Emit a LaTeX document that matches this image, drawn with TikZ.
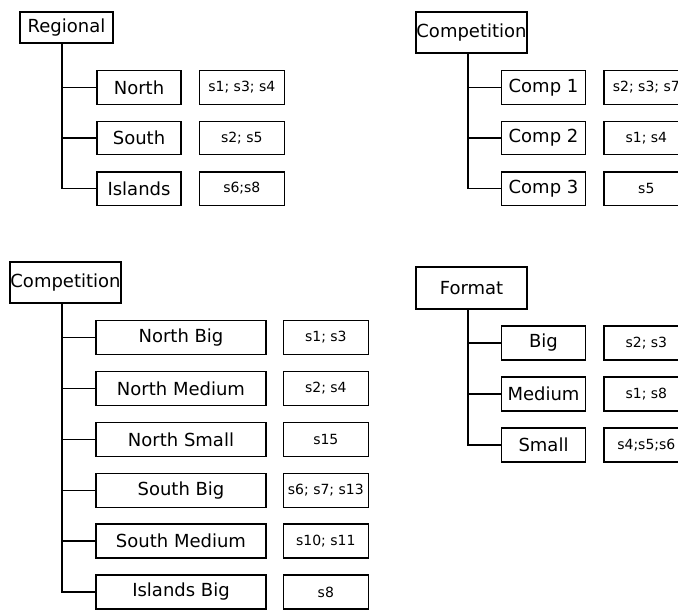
\documentclass[tikz,border=0pt]{standalone}
\usepackage{fontspec}
\setmainfont{DejaVu Sans}
\usetikzlibrary{positioning}

\begin{document}
\begin{tikzpicture}[x=0.75pt, y=-0.75pt,
  box/.style={draw=black, line width=1pt, inner sep=0pt, font=\fontsize{13.5}{16}\selectfont},
  head/.style={box, minimum width=83.25pt, minimum height=30.75pt},
  item/.style={box, minimum width=63pt, minimum height=25pt},
  wide/.style={box, minimum width=127.5pt, minimum height=25.5pt},
  val/.style={box, minimum width=63.75pt, minimum height=25pt, font=\fontsize{10.5}{12}\selectfont},
  link/.style={draw=black, line width=1pt}]
  \useasboundingbox (0,0) rectangle (678,610);
  \clip (0,0) rectangle (678,610);

  % regional
  \node[head, minimum width=69.75pt, minimum height=23.25pt] (reg) at (66.5,27.5) {Regional};
  \coordinate (regtrunk) at ([xshift=-3.4pt]reg.south);
  \foreach \n/\txt/\s [count=\i from 0] in {north/North/{s1; s3; s4}, south/South/{s2; s5}, isl/Islands/{s6;s8}}
  {
  \node[item] (\n) at (139,{87.5+50.5*\i}) {\txt};
  \node[val, right=12.75pt of \n] (\n-v) {\s};
  \draw[link] (\n.west) -- (\n.west -| regtrunk);
  }
  \draw[link] (regtrunk) |- (isl);

  % competition (top)
  \node[head] (comp) at (471.5,32.5) {Competition};
  \coordinate (comptrunk) at ([xshift=-2.6pt]comp.south);
  \foreach \n/\txt/\s [count=\i from 0] in {c1/Comp 1/{s2; s3; s7}, c2/Comp 2/{s1; s4}, c3/Comp 3/{s5}}
  {
  \node[item] (\n) at (543.5,{87.5+50.5*\i}) {\txt};
  \node[val, right=12.75pt of \n] (\n-v) {\s};
  \draw[link] (\n.west) -- (\n.west -| comptrunk);
  }
  \draw[link] (comptrunk) |- (c3);

  % competition (regional x format)
  \node[head] (cross) at (65.5,282.5) {Competition};
  \coordinate (crosstrunk) at ([xshift=-2.6pt]cross.south);
  \foreach \n/\txt/\s [count=\i from 0] in {nb/North Big/{s1; s3}, nm/North Medium/{s2; s4}, ns/North Small/{s15}, sb/South Big/{s6; s7; s13}, sm/South Medium/{s10; s11}, ib/Islands Big/{s8}}
  {
  \node[wide] (\n) at (181,{337.5+50.9*\i}) {\txt};
  \node[val, minimum height=25.5pt, right=12pt of \n] (\n-v) {\s};
  \draw[link] (\n.west) -- (\n.west -| crosstrunk);
  }
  \draw[link] (crosstrunk) |- (ib);

  % format
  \node[head, minimum height=31.5pt] (fmt) at (471.5,288) {Format};
  \coordinate (fmttrunk) at ([xshift=-2.6pt]fmt.south);
  \foreach \n/\txt/\s [count=\i from 0] in {big/Big/{s2; s3}, med/Medium/{s1; s8}, sml/Small/{s4;s5;s6}}
  {
  \node[item, minimum height=25.5pt] (\n) at (543.5,{343+51*\i}) {\txt};
  \node[val, minimum height=25.5pt, right=12.75pt of \n] (\n-v) {\s};
  \draw[link] (\n.west) -- (\n.west -| fmttrunk);
  }
  \draw[link] (fmttrunk) |- (sml);

\end{tikzpicture}
\end{document}
